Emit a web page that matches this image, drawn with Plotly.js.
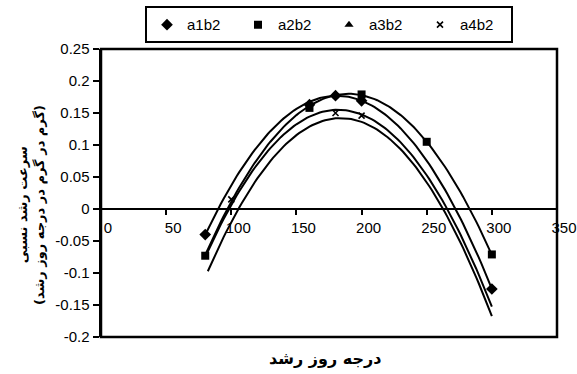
<!DOCTYPE html>
<html>
<head>
<meta charset="utf-8">
<script src="https://cdn.plot.ly/plotly-3.0.1.min.js"></script>
<style>
  html, body { margin: 0; padding: 0; background: #fff; }
</style>
</head>
<body>
<div id="plotArea" style="width:577px;height:374px;"></div>
<script>
// measured points (only the markers that show in the chart)
var seriesNames = ["a1b2", "a2b2", "a3b2", "a4b2"];
var seriesSymbols = ["diamond", "square", "triangle-up", "x-thin"];

var xA1b2 = [80, 160, 180, 200, 300];
var yA1b2 = [-0.04, 0.163, 0.177, 0.169, -0.125];
var xA2b2 = [80, 160, 200, 250, 300];
var yA2b2 = [-0.073, 0.158, 0.179, 0.105, -0.071];
var xA3b2 = [null];
var yA3b2 = [null];
var xA4b2 = [100, 180, 200];
var yA4b2 = [0.015, 0.15, 0.146];

// quadratic trendlines, vertex form: y = peakY - bend * (x - peakX)^2
var trendPeakX = [181, 190, 184, 182];
var trendPeakY = [0.177, 0.180, 0.142, 0.155];
var trendBend = [2.13e-5, 2.08e-5, 2.30e-5, 2.21e-5];
var trendFrom = [80, 80, 82, 80];
var trendTo = [300, 300, 300, 300];

var xTicks = [0, 50, 100, 150, 200, 250, 300, 350];
var yTicks = [-0.2, -0.15, -0.1, -0.05, 0, 0.05, 0.1, 0.15, 0.2, 0.25];
var yTickText = ["-0.2", "-0.15", "-0.1", "-0.05", "0", "0.05", "0.1", "0.15", "0.2", "0.25"];

var xs = [xA1b2, xA2b2, xA3b2, xA4b2];
var ys = [yA1b2, yA2b2, yA3b2, yA4b2];

var data = [];

// trend curves
for (var i = 0; i < 4; i++) {
    var cx = [], cy = [];
    for (var x = trendFrom[i]; x <= trendTo[i]; x += 2) {
        cx.push(x);
        cy.push(trendPeakY[i] - trendBend[i] * Math.pow(x - trendPeakX[i], 2));
    }
    data.push({
        x: cx, y: cy,
        mode: "lines",
        type: "scatter",
        line: { color: "black", width: 2 },
        showlegend: false,
        hoverinfo: "skip"
    });
}

// markers
for (var j = 0; j < 4; j++) {
    data.push({
        x: xs[j], y: ys[j],
        name: seriesNames[j],
        mode: "markers",
        type: "scatter",
        marker: {
            symbol: seriesSymbols[j],
            size: j == 0 ? 9 : (j == 3 ? 6 : 8),
            color: "black",
            line: { color: "black", width: j == 3 ? 1.6 : 0 }
        }
    });
}

var tickFont = { family: "Liberation Sans, Arial, sans-serif", size: 15, color: "black" };
var titleFont = { family: "DejaVu Sans, sans-serif", size: 13, color: "black" };

var layout = {
    width: 577,
    height: 374,
    margin: { l: 101, r: 20, t: 49, b: 37, autoexpand: false },
    paper_bgcolor: "white",
    plot_bgcolor: "white",
    showlegend: true,
    legend: {
        orientation: "h",
        x: 0.5, xanchor: "center",
        y: 1.148, yanchor: "top",
        bordercolor: "black",
        borderwidth: 2,
        font: { family: "Liberation Sans, Arial, sans-serif", size: 15, color: "black" },
        entrywidth: 46,
        entrywidthmode: "pixels",
        itemwidth: 30,
        tracegroupgap: 0
    },
    xaxis: {
        range: [0, 350],
        tickvals: xTicks,
        anchor: "free",
        position: 0.2 / 0.45,
        showline: true,
        linecolor: "black",
        linewidth: 2,
        ticks: "outside",
        ticklen: 5,
        tickwidth: 2,
        tickcolor: "black",
        showgrid: false,
        zeroline: false,
        tickfont: tickFont,
        ticklabelshift: 7,
        fixedrange: true
    },
    yaxis: {
        range: [-0.2, 0.25],
        tickvals: yTicks,
        ticktext: yTickText,
        showline: true,
        linecolor: "black",
        linewidth: 2.5,
        ticks: "outside",
        ticklen: 6,
        tickwidth: 2,
        tickcolor: "black",
        showgrid: false,
        zeroline: false,
        tickfont: tickFont,
        fixedrange: true
    },
    shapes: [{
        type: "rect", xref: "paper", yref: "paper",
        x0: 0, x1: 1, y0: 0, y1: 1,
        line: { color: "black", width: 2.5 }
    }],
    annotations: [
        {
            text: "<b>درجه روز رشد</b>",
            xref: "paper", yref: "paper",
            x: 0.491, y: -0.075,
            xanchor: "center", yanchor: "middle",
            showarrow: false,
            font: { family: "DejaVu Sans, sans-serif", size: 16, color: "black" }
        },
        {
            text: "<b>سرعت رشد نسبی</b>",
            xref: "paper", yref: "paper",
            x: -0.173, y: 0.458,
            xanchor: "center", yanchor: "middle",
            textangle: -90,
            showarrow: false,
            font: titleFont
        },
        {
            text: "<b>(گرم در گرم در درجه روز رشد)</b>",
            xref: "paper", yref: "paper",
            x: -0.134, y: 0.458,
            xanchor: "center", yanchor: "middle",
            textangle: -90,
            showarrow: false,
            font: titleFont
        }
    ]
};

Plotly.newPlot("plotArea", data, layout, { displayModeBar: false, staticPlot: true });
</script>
</body>
</html>
